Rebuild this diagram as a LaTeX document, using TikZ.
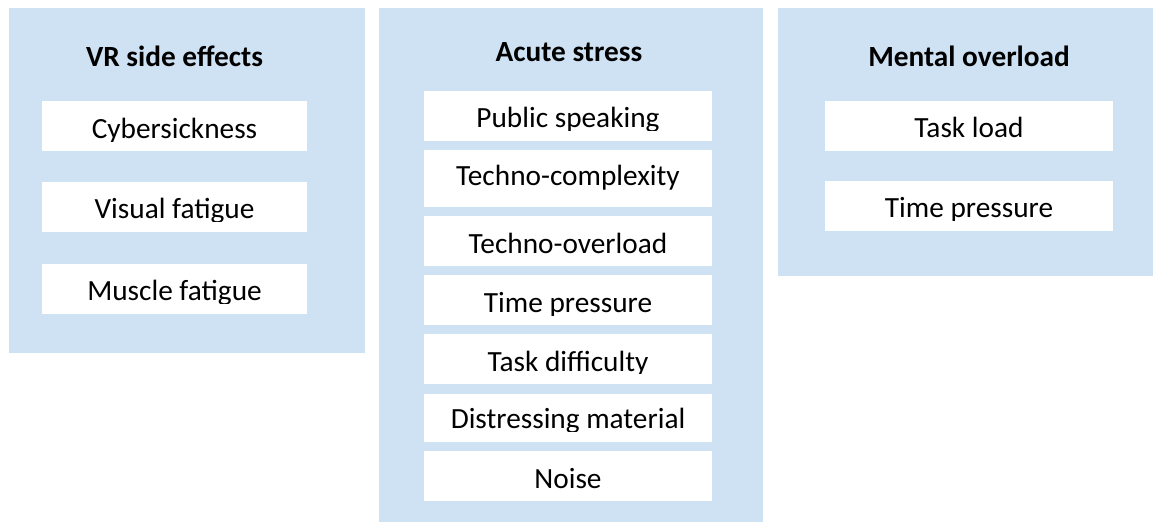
\documentclass[tikz,border=0pt]{standalone}
\usepackage{fontspec}
\setmainfont{Carlito}
\definecolor{panelblue}{RGB}{207,226,243}
\tikzset{
  panel/.style={fill=panelblue, draw=none, inner sep=0pt, outer sep=0pt},
  itembox/.style={fill=white, draw=none, inner sep=0pt, outer sep=0pt},
  lbl/.style={anchor=base, inner sep=0pt, font=\fontsize{29.3}{35}\selectfont},
  ttl/.style={anchor=base, inner sep=0pt, font=\fontsize{29.3}{35}\selectfont\bfseries},
}
% #1 name, #2 x1, #3 y1, #4 x2, #5 y2
\newcommand\panelbox[5]{%
  \node[panel, minimum width={(#4-#2)*1pt}, minimum height={(#5-#3)*1pt}]
    (#1) at ({(#2+#4)/2},{(#3+#5)/2}) {};}
% #1 name, #2 x1, #3 y1, #4 x2, #5 y2, #6 baseline, #7 lower edge of the text frame, #8 text
\newcommand\itementry[8]{%
  \node[itembox, minimum width={(#4-#2)*1pt}, minimum height={(#5-#3)*1pt}]
    (#1) at ({(#2+#4)/2},{(#3+#5)/2}) {};
  \begin{scope}
    \clip (#2,#3) rectangle (#4,#7);
    \node[lbl] (#1-text) at ({(#2+#4)/2},#6) {#8};
  \end{scope}}
\begin{document}
\begin{tikzpicture}[x=1pt,y=-1pt]
\useasboundingbox (0,0) rectangle (1153,523);

% VR side effects
\panelbox{vr}{9}{8}{365}{353}
\node[ttl] (vr-title) at (174.5,66.7) {VR side effects};
\itementry{cyber}{42}{101}{307}{151}{138.3}{141.3}{Cybersickness}
\itementry{visual}{42}{182}{307}{232}{218.3}{221.5}{Visual fatigue}
\itementry{muscle}{42}{264}{307}{314}{300}{303.3}{Muscle fatigue}

% Acute stress
\panelbox{acute}{379}{8}{763}{522}
\node[ttl] (acute-title) at (569,61.7) {Acute stress};
\itementry{public}{424}{91}{712}{141}{127.7}{130}{Public speaking}
\itementry{complex}{424}{150}{712}{207}{185}{207}{Techno-complexity}
\itementry{overload}{424}{216}{712}{266}{253.3}{266}{Techno-overload}
\itementry{timeA}{424}{275}{712}{325}{312.7}{315}{Time pressure}
\itementry{difficulty}{424}{334}{712}{384}{371}{373.3}{Task difficulty}
\itementry{distress}{424}{394}{712}{442}{428.3}{431.5}{Distressing material}
\itementry{noise}{424}{451}{712}{501}{488.7}{501}{Noise}

% Mental overload
\panelbox{mental}{778}{8}{1153}{276}
\node[ttl] (mental-title) at (969,66) {Mental overload};
\itementry{taskload}{825}{101}{1113}{151}{137.7}{151}{Task load}
\itementry{timeM}{825}{181}{1113}{231}{217.3}{220}{Time pressure}
\end{tikzpicture}
\end{document}
